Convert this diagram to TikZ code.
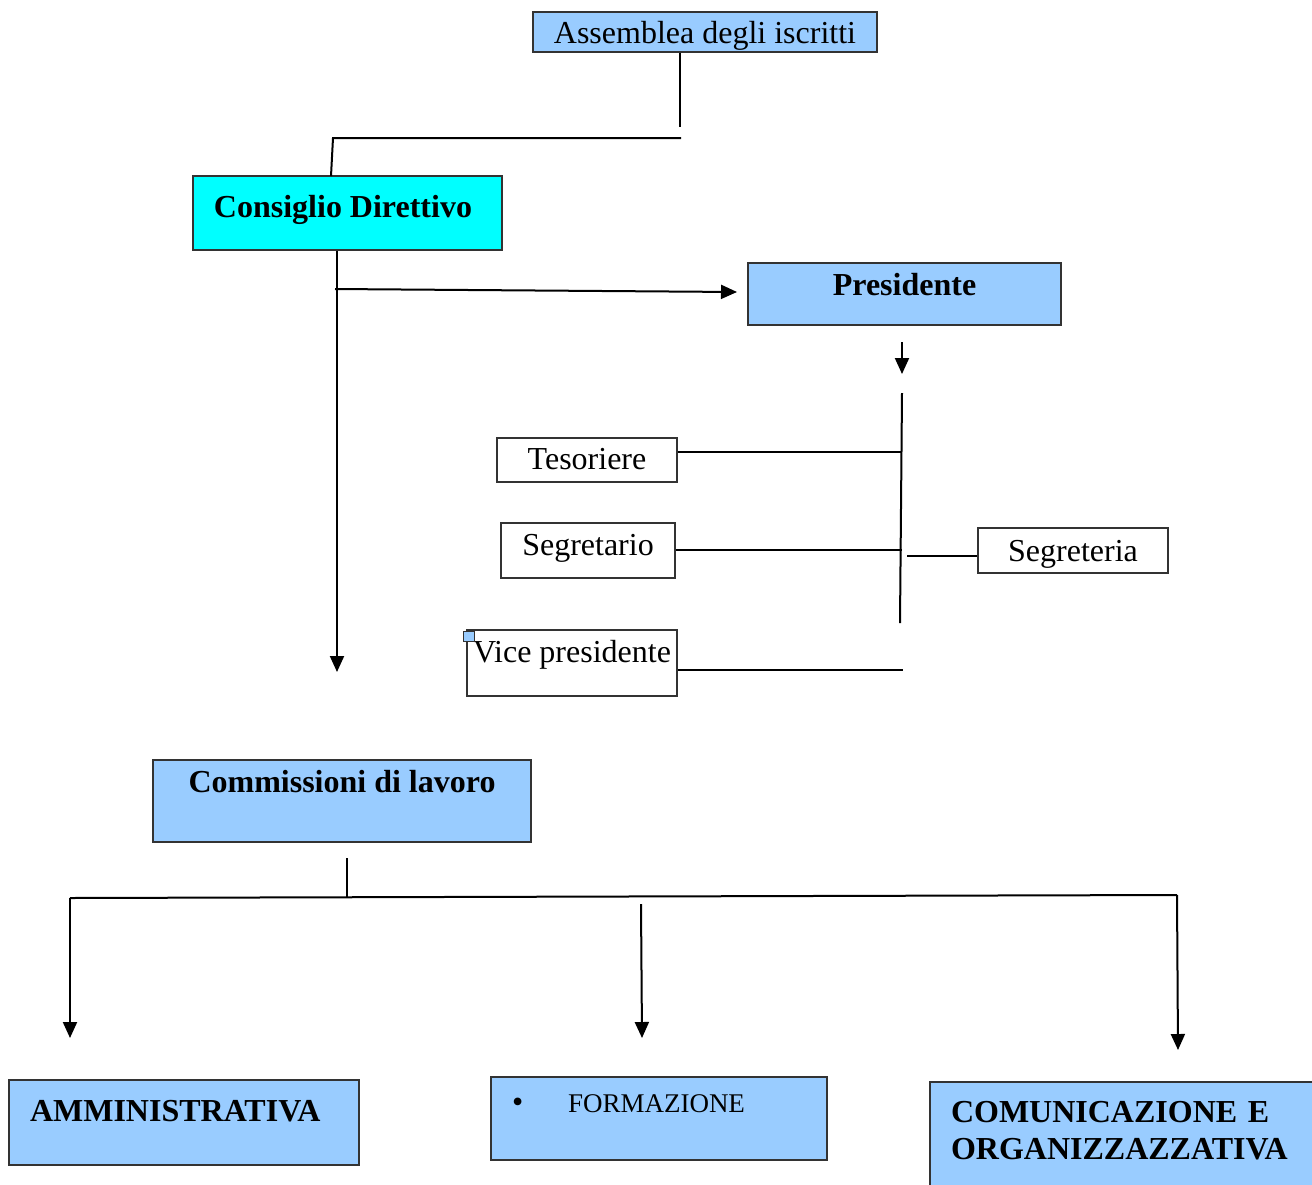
\documentclass[tikz,border=0pt]{standalone}
\usepackage{fontspec}
\setmainfont{Liberation Serif}
\usetikzlibrary{arrows.meta}
\definecolor{boxblue}{HTML}{99CCFF}
\definecolor{boxcyan}{HTML}{00FFFF}

\begin{document}
\begin{tikzpicture}[x=0.5pt,y=-0.5pt,>={Triangle[length=8pt,width=7pt]},-,line width=1pt,
    box/.style={draw=black!80,line width=.6pt,inner sep=0pt,text height=11pt,font=\fontsize{16}{19.2}\selectfont},
    bluebox/.style={box,fill=boxblue,font=\fontsize{16}{19.2}\selectfont\bfseries},
    widebox/.style={bluebox,align=left,inner xsep=10.5pt,font=\fontsize{16}{18.6}\selectfont\bfseries}]
            \useasboundingbox (0,0) rectangle (1312,1184);
            \clip (0,0) rectangle (1312,1184);

            \node [box, fill=boxblue, minimum width=172pt, minimum height=20pt, text depth=0pt] (assemblea) at (705,32) {Assemblea degli iscritti};
            \node [bluebox, fill=boxcyan, minimum width=154.5pt, minimum height=37pt, text depth=6.5pt] (consiglio) at (347.5,213) {\hspace{-4.5pt}Consiglio Direttivo};
            \node [bluebox, minimum width=156.5pt, minimum height=31pt, text depth=9.5pt] (presidente) at (904.5,294) {Presidente};
            \node [box, minimum width=90pt, minimum height=22pt, text depth=1.5pt] (tesoriere) at (587,460) {Tesoriere};
            \node [box, minimum width=87pt, minimum height=27.5pt, text depth=6pt] (segretario) at (588,550.5) {Segretario};
            \node [box, minimum width=95pt, minimum height=22.5pt, text depth=0pt] (segreteria) at (1073,550.5) {Segreteria};
            \node [box, minimum width=105pt, minimum height=33pt, text depth=11.5pt] (vice) at (572,663) {Vice presidente};
            \node [draw=black!80, fill=boxblue, line width=.5pt, inner sep=0pt, minimum width=5.5pt, minimum height=5pt] (ancora) at (468.5,636) {};
            \node [bluebox, minimum width=189pt, minimum height=41pt, text depth=19.5pt] (commissioni) at (342,801) {Commissioni di lavoro};
            \node [widebox, text width=154pt, minimum height=42.5pt, text depth=12.5pt] (amministrativa) at (184,1122.5) {AMMINISTRATIVA};
            \node [box, fill=boxblue, align=left, inner xsep=10.5pt, text width=147pt, minimum height=41.5pt, text depth=17pt, font=\fontsize{13.5}{16}\selectfont] (formazione) at (659,1118.5) {{\fontsize{16}{16}\selectfont\textbullet}\hspace{22.4pt}FORMAZIONE};
            \node [widebox, text width=179pt, minimum height=59pt, text depth=30pt] (comunicazione) at (1130,1141) {COMUNICAZIONE E\\ORGANIZZAZZATIVA};

            \coordinate (a1) at (680,127);
            \coordinate (a2) at (681,138);
            \coordinate (a3) at (333,138);
            \coordinate (a4) at (331,176);
            \coordinate (c1) at (337,672);
            \coordinate (c2) at (335,289);
            \coordinate (c3) at (737,292);
            \coordinate (p1) at (902,342);
            \coordinate (p2) at (902,374);
            \coordinate (r1) at (902,393);
            \coordinate (r2) at (900,623);
            \coordinate (t1) at (902,452);
            \coordinate (t2) at (902,550);
            \coordinate (t3) at (907,556);
            \coordinate (t4) at (903,670);
            \coordinate (k1) at (347,858);
            \coordinate (k2) at (70,898);
            \coordinate (k3) at (1177,895);
            \coordinate (k4) at (641,904);
            \coordinate (k5) at (70,1038);
            \coordinate (k6) at (642,1038);
            \coordinate (k7) at (1178,1050);

            \draw (a1 |- assemblea.south) -- (a1);
            \draw (a2) -- (a3) -- (a4);
            \draw [->] (c1 |- consiglio.south) -- (c1);
            \draw [->] (c2) -- (c3);
            \draw [->] (p1) -- (p2);
            \draw (r1) -- (r2);
            \draw (tesoriere.east |- t1) -- (t1);
            \draw (segretario.east |- t2) -- (t2);
            \draw (t3) -- (segreteria.west |- t3);
            \draw (vice.east |- t4) -- (t4);
            \draw (k1) -- (k1 |- k2);
            \draw (k2) -- (k3);
            \draw [->] (k2) -- (k5);
            \draw [->] (k4) -- (k6);
            \draw [->] (k3) -- (k7);

        \end{tikzpicture}
\end{document}
